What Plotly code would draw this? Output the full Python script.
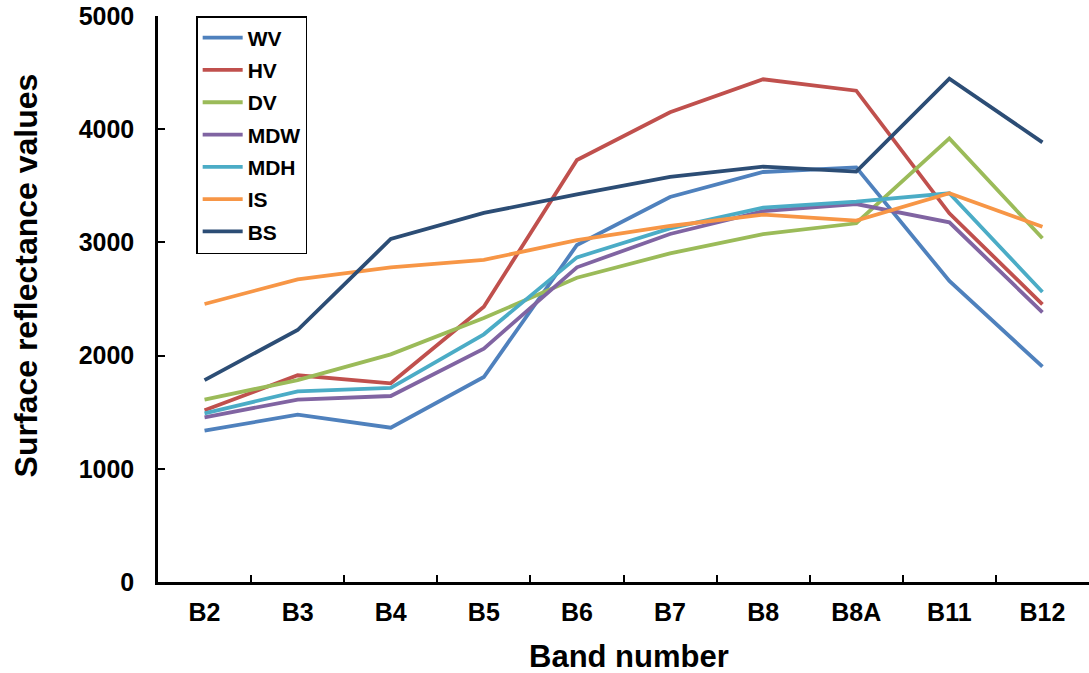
import plotly.graph_objects as go

bands = ["B2", "B3", "B4", "B5", "B6", "B7", "B8", "B8A", "B11", "B12"]

wv = [1337, 1478, 1363, 1811, 2977, 3401, 3622, 3663, 2659, 1902]
hv = [1517, 1826, 1755, 2432, 3728, 4149, 4441, 4340, 3257, 2453]
dv = [1611, 1784, 2011, 2332, 2688, 2903, 3074, 3169, 3919, 3036]
mdw = [1455, 1611, 1643, 2061, 2780, 3074, 3277, 3339, 3177, 2382]
mdh = [1490, 1684, 1714, 2188, 2868, 3124, 3307, 3360, 3434, 2562]
is_ = [2456, 2674, 2780, 2845, 3021, 3145, 3245, 3192, 3434, 3139]
bs = [1784, 2226, 3030, 3260, 3425, 3578, 3669, 3625, 4446, 3884]

series_names = ["WV", "HV", "DV", "MDW", "MDH", "IS", "BS"]
series_values = [wv, hv, dv, mdw, mdh, is_, bs]
colors = ["#4F81BD", "#C0504D", "#9BBB59", "#8064A2", "#4BACC6", "#F79646", "#2C4D75"]

y_ticks = [0, 1000, 2000, 3000, 4000, 5000]

FONT = "Liberation Sans, Arial, sans-serif"

fig = go.Figure()
for name, vals, col in zip(series_names, series_values, colors):
    fig.add_trace(go.Scatter(
        x=bands, y=vals, name=name, mode="lines",
        line=dict(color=col, width=3.8),
        legendgroup=name,
    ))

fig.update_layout(
    width=1089, height=673,
    margin=dict(l=158, r=0, t=16, b=91),
    paper_bgcolor="white", plot_bgcolor="white",
    font=dict(family=FONT, color="black"),
    showlegend=True,
    legend=dict(
        x=0.041, y=1, xanchor="left", yanchor="top",
        bordercolor="black", borderwidth=1.5, bgcolor="white",
        font=dict(family=FONT, size=21, color="black", weight="bold"),
        tracegroupgap=2,
        itemwidth=40,
        entrywidth=66,
    ),
    xaxis=dict(
        type="category",
        categoryorder="array", categoryarray=bands,
        range=[-0.5, len(bands) - 0.5],
        showline=True, linecolor="black", linewidth=2.5,
        ticks="inside", ticklen=7, tickwidth=2, tickcolor="black",
        tickson="boundaries",
        showgrid=False, zeroline=False,
        tickfont=dict(family=FONT, size=25, color="black", weight="bold"),
        ticklabelstandoff=6,
    ),
    yaxis=dict(
        range=[0, 5000],
        tickvals=y_ticks,
        showline=True, linecolor="black", linewidth=2.5,
        ticks="inside", ticklen=7, tickwidth=2, tickcolor="black",
        showgrid=False, zeroline=False,
        tickfont=dict(family=FONT, size=25, color="black", weight="bold"),
        ticklabelstandoff=16,
        ticklabeloverflow="allow",
    ),
    annotations=[
        dict(text="<b>Band number</b>", xref="paper", yref="paper",
             x=0.5064, y=-0.097, xanchor="center", yanchor="top",
             showarrow=False, font=dict(family=FONT, size=31, color="black")),
        dict(text="<b>Surface reflectance values</b>", xref="paper", yref="paper",
             x=-0.1416, y=0.542, xanchor="center", yanchor="middle", textangle=-90,
             showarrow=False, font=dict(family=FONT, size=32, color="black")),
    ],
)

fig.write_html("out.html", config={"displayModeBar": False},
               post_script="document.body.style.margin='0';")
